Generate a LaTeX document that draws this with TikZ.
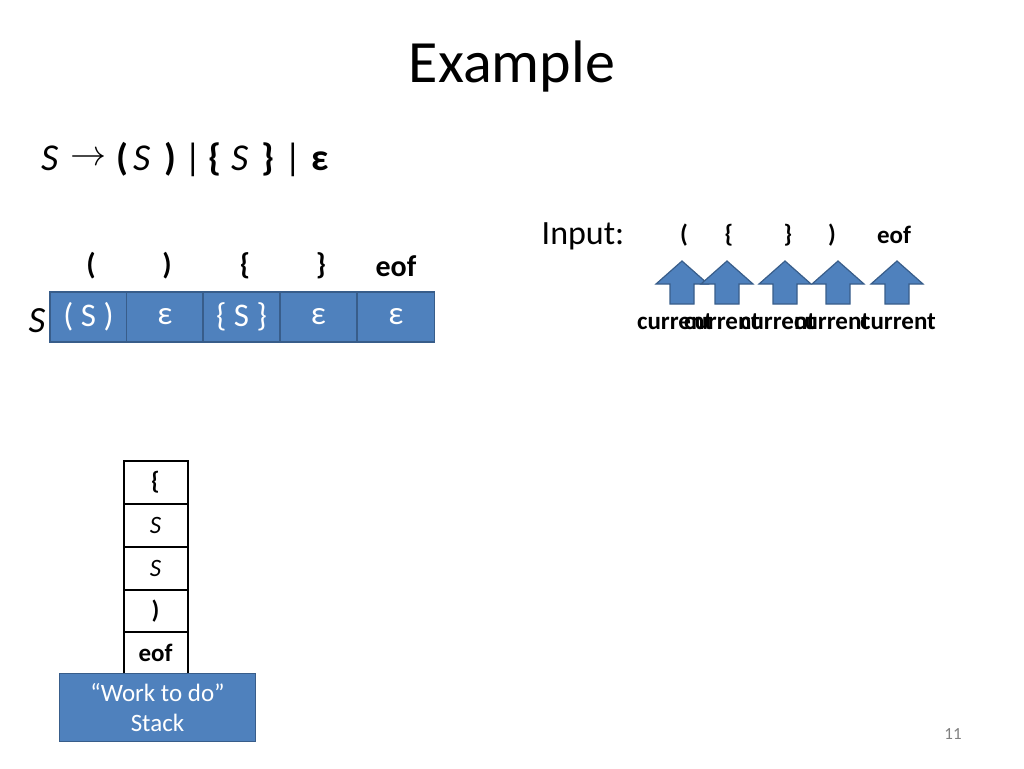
\documentclass[tikz,border=0pt]{standalone}
\usepackage{graphicx}
\usepackage{fontspec}
\setmainfont{Carlito}
\definecolor{bfill}{HTML}{4F81BD}
\definecolor{bdraw}{HTML}{385D8A}
\tikzset{
  fs/.style={font=\fontsize{#1}{#1}\selectfont},
  cell/.style={draw=bdraw, fill=bfill, line width=1.5pt, minimum width=77pt, minimum height=50pt, text=white, inner sep=0pt, fs=33},
  scell/.style={draw=black, fill=white, line width=2pt, minimum width=64pt, minimum height=43pt, inner sep=0pt, fs=25},
  hdr/.style={font=\fontsize{30}{30}\selectfont\bfseries, inner sep=0pt},
  tok/.style={font=\fontsize{25}{25}\selectfont\bfseries, inner sep=0pt},
  cur/.style={font=\fontsize{25}{25}\selectfont\bfseries, inner sep=0pt},
  gr/.style={font=\fontsize{38}{38}\selectfont, inner sep=0pt, anchor=base west},
  uparrow/.style={draw=bdraw, fill=bfill, line width=1.2pt, line join=miter}
}
\begin{document}
\begin{tikzpicture}[x=1pt,y=-1pt]
\useasboundingbox (0,0) rectangle (1024,768);
% title
\node[fs=60, inner sep=0pt] (title) at (512,67) {Example};
% grammar
\node[gr] (g1) at (41,170) {\textit{S}};
\node[gr, font=\normalsize] (g2) at (70,165) {\scalebox{3.6}{$\rightarrow$}};
\node[gr] (g3) at (116,170) {\textbf{(}};
\node[gr] (g4) at (133,170) {\textit{S}};
\node[gr] (g5) at (164,170) {\textbf{)}};
\node[gr] (g6) at (184,170) {|};
\node[gr] (g7) at (208,170) {\textbf{\{}};
\node[gr] (g8) at (231,170) {\textit{S}};
\node[gr] (g9) at (261,170) {\textbf{\}}};
\node[gr] (g10) at (284,170) {|};
\node[gr] (g11) at (311,170) {\textbf{ε}};
% table header
\node[hdr] (h1) at (91,266) {(};
\node[hdr] (h2) at (167,266) {)};
\node[hdr] (h3) at (245,266) {\{};
\node[hdr] (h4) at (321,266) {\}};
\node[hdr] (h5) at (396,266) {eof};
% row label
\node[fs=37, inner sep=0pt] (rowS) at (37,321) {\textit{S}};
% cells
\node[cell] (c1) at (88.5,317) {( S )};
\node[cell] (c2) at (165,317) {ε};
\node[cell] (c3) at (241.5,317) {\{ S \}};
\node[cell] (c4) at (318.5,317) {ε};
\node[cell] (c5) at (396,317) {ε};
% input
\node[fs=34, inner sep=0pt] (inp) at (583,236) {Input:};
\node[tok] (t1) at (684,235) {(};
\node[tok] (t2) at (729,235) {\{};
\node[tok] (t3) at (788,235) {\}};
\node[tok] (t4) at (832,235) {)};
\node[tok] (t5) at (894,235) {eof};
% arrows
\foreach \cx [count=\i] in {682,727,785,838,897} {
  \draw[uparrow] (\cx-12,304) -- (\cx-12,284) -- (\cx-26,284) -- (\cx,261) -- (\cx+26,284) -- (\cx+12,284) -- (\cx+12,304) -- cycle;
}
\foreach \cx [count=\i] in {675,722,778,832,898} {
  \node[cur] (cur\i) at (\cx,322) {current};
}
% stack
\node[scell] (s1) at (155.5,482) {\textbf{\{}};
\node[scell] (s2) at (155.5,525) {\textit{S}};
\node[scell] (s3) at (155.5,568) {\textit{S}};
\node[scell] (s4) at (155.5,611) {\textbf{)}};
\node[scell] (s5) at (155.5,653) {\textbf{eof}};
\node[draw=bdraw, fill=bfill, line width=1.5pt, minimum width=196pt, minimum height=68pt, text=white, inner sep=0pt, align=center, font=\fontsize{25}{30}\selectfont] (stk) at (157.5,707.5) {“Work to do”\\Stack};
% page number
\node[fs=17, text=gray, inner sep=0pt] (pg) at (953,734) {11};
\end{tikzpicture}
\end{document}
